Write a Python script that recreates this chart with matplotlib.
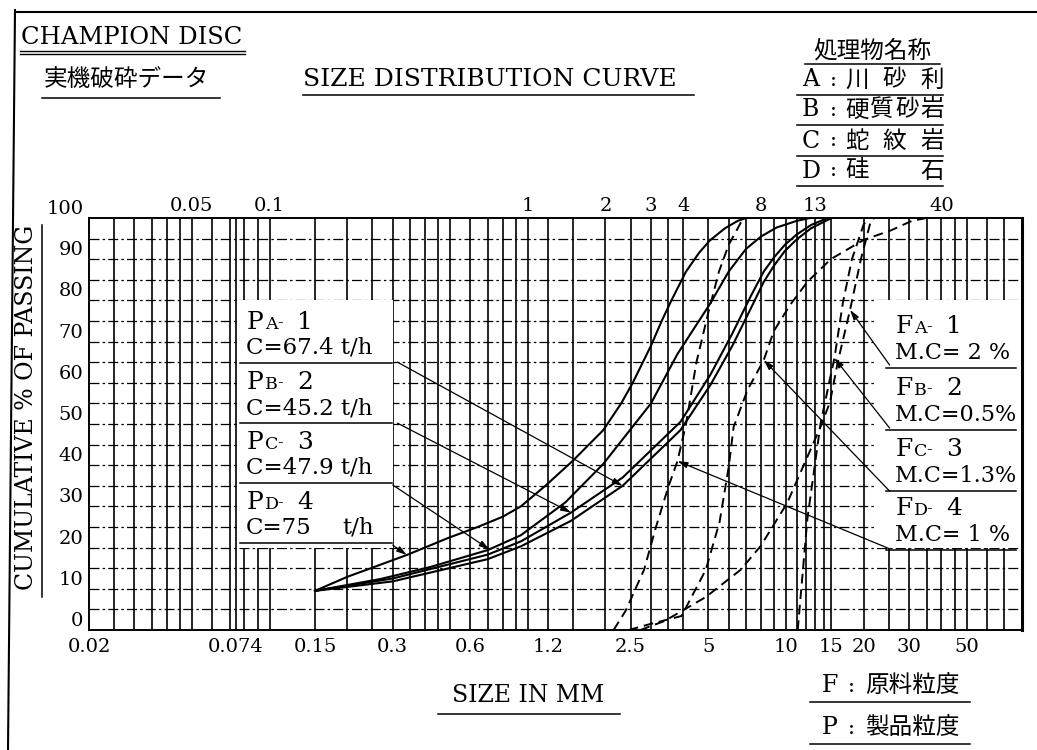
import numpy as np
import matplotlib.pyplot as plt
from matplotlib.lines import Line2D
from matplotlib.patches import Rectangle

W, H = 1037, 750

# product size distributions (solid curves), size in mm / cumulative % passing
pd_size = [0.15, 0.2, 0.34, 0.49, 0.64, 0.8, 0.94, 1.17, 1.49, 1.96, 2.3, 2.55, 3.0, 3.3, 3.6, 4.1, 4.6, 5.06, 5.8, 6.5, 7.0]
pd_pass = [9.5, 12.9, 18.2, 22.3, 25.0, 27.5, 30.0, 35.0, 41.0, 48.5, 55.0, 60.0, 69.0, 75.0, 80.0, 87.0, 91.5, 94.5, 97.5, 99.3, 100]

pc_size = [0.15, 0.27, 0.42, 0.70, 0.94, 1.4, 1.96, 3.0, 3.8, 5.06, 6.0, 7.0, 8.0, 9.2, 11.0, 12.4]
pc_pass = [9.5, 12.4, 15.3, 19.4, 23.0, 31.0, 40.3, 55.0, 67.0, 79.0, 87.0, 92.5, 95.5, 97.7, 99.3, 100]

pb_size = [0.15, 0.3, 0.7, 0.94, 1.47, 2.33, 3.9, 5.1, 6.2, 7.3, 8.2, 9.0, 9.9, 11.0, 12.5, 14.5]
pb_pass = [9.5, 12.5, 18.3, 21.5, 28.5, 37.0, 50.5, 62.0, 72.0, 81.0, 87.0, 90.5, 93.5, 96.0, 98.3, 100]

pa_size = [0.15, 0.3, 0.7, 0.94, 1.47, 2.33, 3.9, 5.1, 6.2, 7.3, 8.2, 9.0, 9.9, 11.0, 12.5, 15.0]
pa_pass = [9.5, 11.8, 17.2, 20.3, 26.5, 35.0, 48.5, 59.5, 69.0, 78.0, 84.5, 88.5, 92.0, 94.8, 97.5, 100]

# feed size distributions (dashed curves)
fd_size = [2.15, 2.39, 2.82, 3.13, 3.5, 3.8, 4.1, 4.5, 5.0, 5.5, 6.0, 6.7, 7.0]
fd_pass = [0, 4.6, 14.6, 24.8, 34.7, 41.0, 50.0, 65.0, 77.0, 87.0, 93.5, 99.0, 100]

fc_size = [2.46, 3.0, 3.94, 4.89, 5.53, 6.0, 6.27, 7.1, 8.2, 8.96, 10.4, 12.1, 14.9, 20.0, 25.5, 30.7, 35.0]
fc_pass = [0, 1.5, 3.4, 14.6, 26.2, 39.6, 49.3, 58.3, 65.5, 72.5, 79.0, 84.5, 90.0, 94.7, 97.0, 99.3, 100]

fa_size = [2.73, 3.39, 4.89, 6.67, 7.98, 10.1, 13.6, 14.8, 15.9, 17.7, 19.5, 21.3, 22.0]
fa_pass = [0, 2.2, 8.0, 14.6, 20.4, 30.8, 49.3, 55.3, 65.3, 77.7, 90.0, 99.3, 100]

fb_size = [11.1, 12.1, 13.6, 14.8, 15.4, 16.6, 18.0, 20.0, 21.0]
fb_pass = [0, 27.0, 50.0, 61.0, 66.0, 79.4, 90.0, 98.5, 100]

# sieve lines of the chart paper
sieves = [0.025, 0.03, 0.035, 0.04, 0.045, 0.05, 0.06, 0.07, 0.074, 0.08, 0.09, 0.1,
          0.15, 0.2, 0.25, 0.3, 0.35, 0.4, 0.45, 0.5, 0.6, 0.7, 0.8, 0.9, 1.0, 1.2,
          1.5, 2.0, 2.5, 3.0, 3.5, 4.0, 5.0, 6.0, 7.0, 8.0, 9.0, 10.0, 11.0, 12.0,
          13.0, 14.0, 15.0, 20.0, 25.0, 30.0, 35.0, 40.0, 45.0, 50.0, 60.0, 70.0]

bottom_ticks = [0.02, 0.074, 0.15, 0.3, 0.6, 1.2, 2.5, 5, 10, 15, 20, 30, 50]
bottom_labels = ['0.02', '0.074', '0.15', '0.3', '0.6', '1.2', '2.5', '5', '10', '15', '20', '30', '50']
top_ticks = [0.05, 0.1, 1, 2, 3, 4, 8, 13, 40]
top_labels = ['0.05', '0.1', '1', '2', '3', '4', '8', '13', '40']

materials = [('A', ['川', '砂', '利']), ('B', ['硬', '質', '砂', '岩']),
             ('C', ['蛇', '紋', '岩']), ('D', ['硅', '', '石'])]
product_tags = [('A', '1', 'C=67.4 t/h'), ('B', '2', 'C=45.2 t/h'),
                ('C', '3', 'C=47.9 t/h'), ('D', '4', 'C=75')]
feed_tags = [('A', '1', 'M.C= 2 %'), ('B', '2', 'M.C=0.5%'),
             ('C', '3', 'M.C=1.3%'), ('D', '4', 'M.C= 1 %')]


def fx(x):
    return x / W


def fy(y):
    return 1 - y / H


plt.rcParams['font.family'] = ['DejaVu Serif', 'Noto Sans CJK JP']
fig = plt.figure(figsize=(W / 100, H / 100), dpi=100)


def put(x, y, s, size=17, ha='left', va='center', **kw):
    fig.text(fx(x), fy(y), s, fontsize=size, ha=ha, va=va, **kw)


def rule(x0, x1, y, lw=1.1):
    fig.add_artist(Line2D([fx(x0), fx(x1)], [fy(y), fy(y)], color='black', lw=lw))


def tag(x, y, big, sub, num):
    # large letter, small-cap subscript letter, then the run number
    base = y + 9
    put(x, base, big, 18, va='baseline')
    put(x + 18, base, sub, 12.5, va='baseline')
    put(x + 30, base - 2, '-', 12, va='baseline')
    put(x + 50, base, num, 18, va='baseline')


ax = fig.add_axes([fx(89), fy(630), (1022 - 89) / W, (630 - 218) / H])
ax.set_xscale('log')
ax.set_xlim(0.02, 82)
ax.set_ylim(0, 100)

for s in sieves:
    ax.axvline(s, color='black', lw=1.2, zorder=1)
for p in range(5, 100, 5):
    ax.axhline(p, color='black', lw=0.9, ls=(0, (8, 2.5, 2, 2.5)), zorder=1)
for sp in ax.spines.values():
    sp.set_linewidth(1.4)
ax.spines['right'].set_linewidth(2.2)

# blank panels behind the curve tags
ax.add_patch(Rectangle((0.076, 20), 0.3 - 0.076, 60, facecolor='white',
                       edgecolor='none', zorder=2))
ax.add_patch(Rectangle((22.5, 20), 82 - 22.5, 60, facecolor='white',
                       edgecolor='none', zorder=2))

for xs, ys in [(pa_size, pa_pass), (pb_size, pb_pass), (pc_size, pc_pass), (pd_size, pd_pass)]:
    ax.plot(xs, ys, color='black', lw=1.5, zorder=4)
for xs, ys in [(fa_size, fa_pass), (fb_size, fb_pass), (fc_size, fc_pass), (fd_size, fd_pass)]:
    ax.plot(xs, ys, color='black', lw=1.4, ls=(0, (5, 3)), zorder=4)

ax.xaxis.set_minor_locator(plt.NullLocator())
ax.set_xticks(bottom_ticks, bottom_labels)
ax.set_yticks(range(0, 101, 10), [str(v) for v in range(0, 101, 10)])
ax.tick_params(axis='x', length=0, labelsize=14, pad=6)
ax.tick_params(axis='y', length=0, labelsize=14, pad=4)
for lab in ax.get_yticklabels():
    lab.set_verticalalignment('bottom')
top = ax.secondary_xaxis('top')
top.xaxis.set_minor_locator(plt.NullLocator())
top.set_xticks(top_ticks, top_labels)
top.tick_params(length=0, labelsize=14, pad=2)
top.spines['top'].set_visible(False)


def on_curve(xs, ys, size):
    return size, float(np.interp(np.log10(size), np.log10(xs), ys))


arrow = dict(arrowstyle='-|>,head_length=0.6,head_width=0.18', color='black',
             lw=0.9, shrinkA=0, shrinkB=0)
product_arrows = [((0.313, 65.0), on_curve(pa_size, pa_pass, 2.33)),
                  ((0.313, 50.2), on_curve(pb_size, pb_pass, 1.47)),
                  ((0.300, 35.2), on_curve(pc_size, pc_pass, 0.71)),
                  ((0.300, 20.6), on_curve(pd_size, pd_pass, 0.34))]
feed_arrows = [((25.2, 64.3), on_curve(fa_size, fa_pass, 17.7)),
               ((25.2, 49.0), on_curve(fb_size, fb_pass, 15.4)),
               ((25.2, 33.7), on_curve(fc_size, fc_pass, 8.2)),
               ((25.2, 19.7), on_curve(fd_size, fd_pass, 3.8))]
for start, end in product_arrows + feed_arrows:
    ax.annotate('', xy=end, xytext=start, arrowprops=arrow, zorder=5)

# curve tags
for (sub, num, cap), y in zip(product_tags, [320, 380, 440, 500]):
    tag(247, y, 'P', sub, num)
    put(246, y + 28, cap, 16.5)
    rule(240, 392, y + 43)
put(342, 528, 't/h', 16.5)
for (sub, num, cap), y in zip(feed_tags, [324, 386, 447, 506]):
    tag(896, y, 'F', sub, num)
    put(895, y + 29, cap, 16)
    rule(886, 1016, y + 44)

# headings
put(21, 37, 'CHAMPION DISC', 17.5)
rule(20, 245, 51, 1.0)
rule(20, 245, 54, 1.0)
put(44, 79, '実機破砕データ', 17)
rule(42, 220, 98)
put(303, 80, 'SIZE DISTRIBUTION CURVE', 18)
rule(303, 694, 95)

put(872, 51, '処理物名称', 17, ha='center')
rule(805, 940, 64)
for (letter, chars), y in zip(materials, [80, 110, 141, 171]):
    put(802, y, letter, 17)
    put(833, y, ':', 15, ha='center')
    xs = np.linspace(857, 932, len(chars))
    for cx, ch in zip(xs, chars):
        put(cx, y, ch, 17, ha='center')
    rule(797, 943, y + 15)

fig.text(fx(27), fy(407), 'CUMULATIVE % OF PASSING', fontsize=17, rotation=90,
         ha='center', va='center')
fig.add_artist(Line2D([fx(42), fx(42)], [fy(225), fy(597)], color='black', lw=1.1))

put(528, 696, 'SIZE IN MM', 17, ha='center')
rule(438, 620, 714)
put(822, 686, 'F', 17)
put(851, 686, ':', 15, ha='center')
put(865, 686, '原料粒度', 17)
rule(810, 970, 702)
put(822, 728, 'P', 17)
put(851, 728, ':', 15, ha='center')
put(865, 728, '製品粒度', 17)
rule(810, 970, 744)

# sheet border
fig.add_artist(Line2D([fx(15), 1.0], [fy(12), fy(12)], color='black', lw=1.5))
fig.add_artist(Line2D([fx(15), fx(8)], [fy(10), 0.0], color='black', lw=1.5))

fig.savefig('out.png', dpi=100)
